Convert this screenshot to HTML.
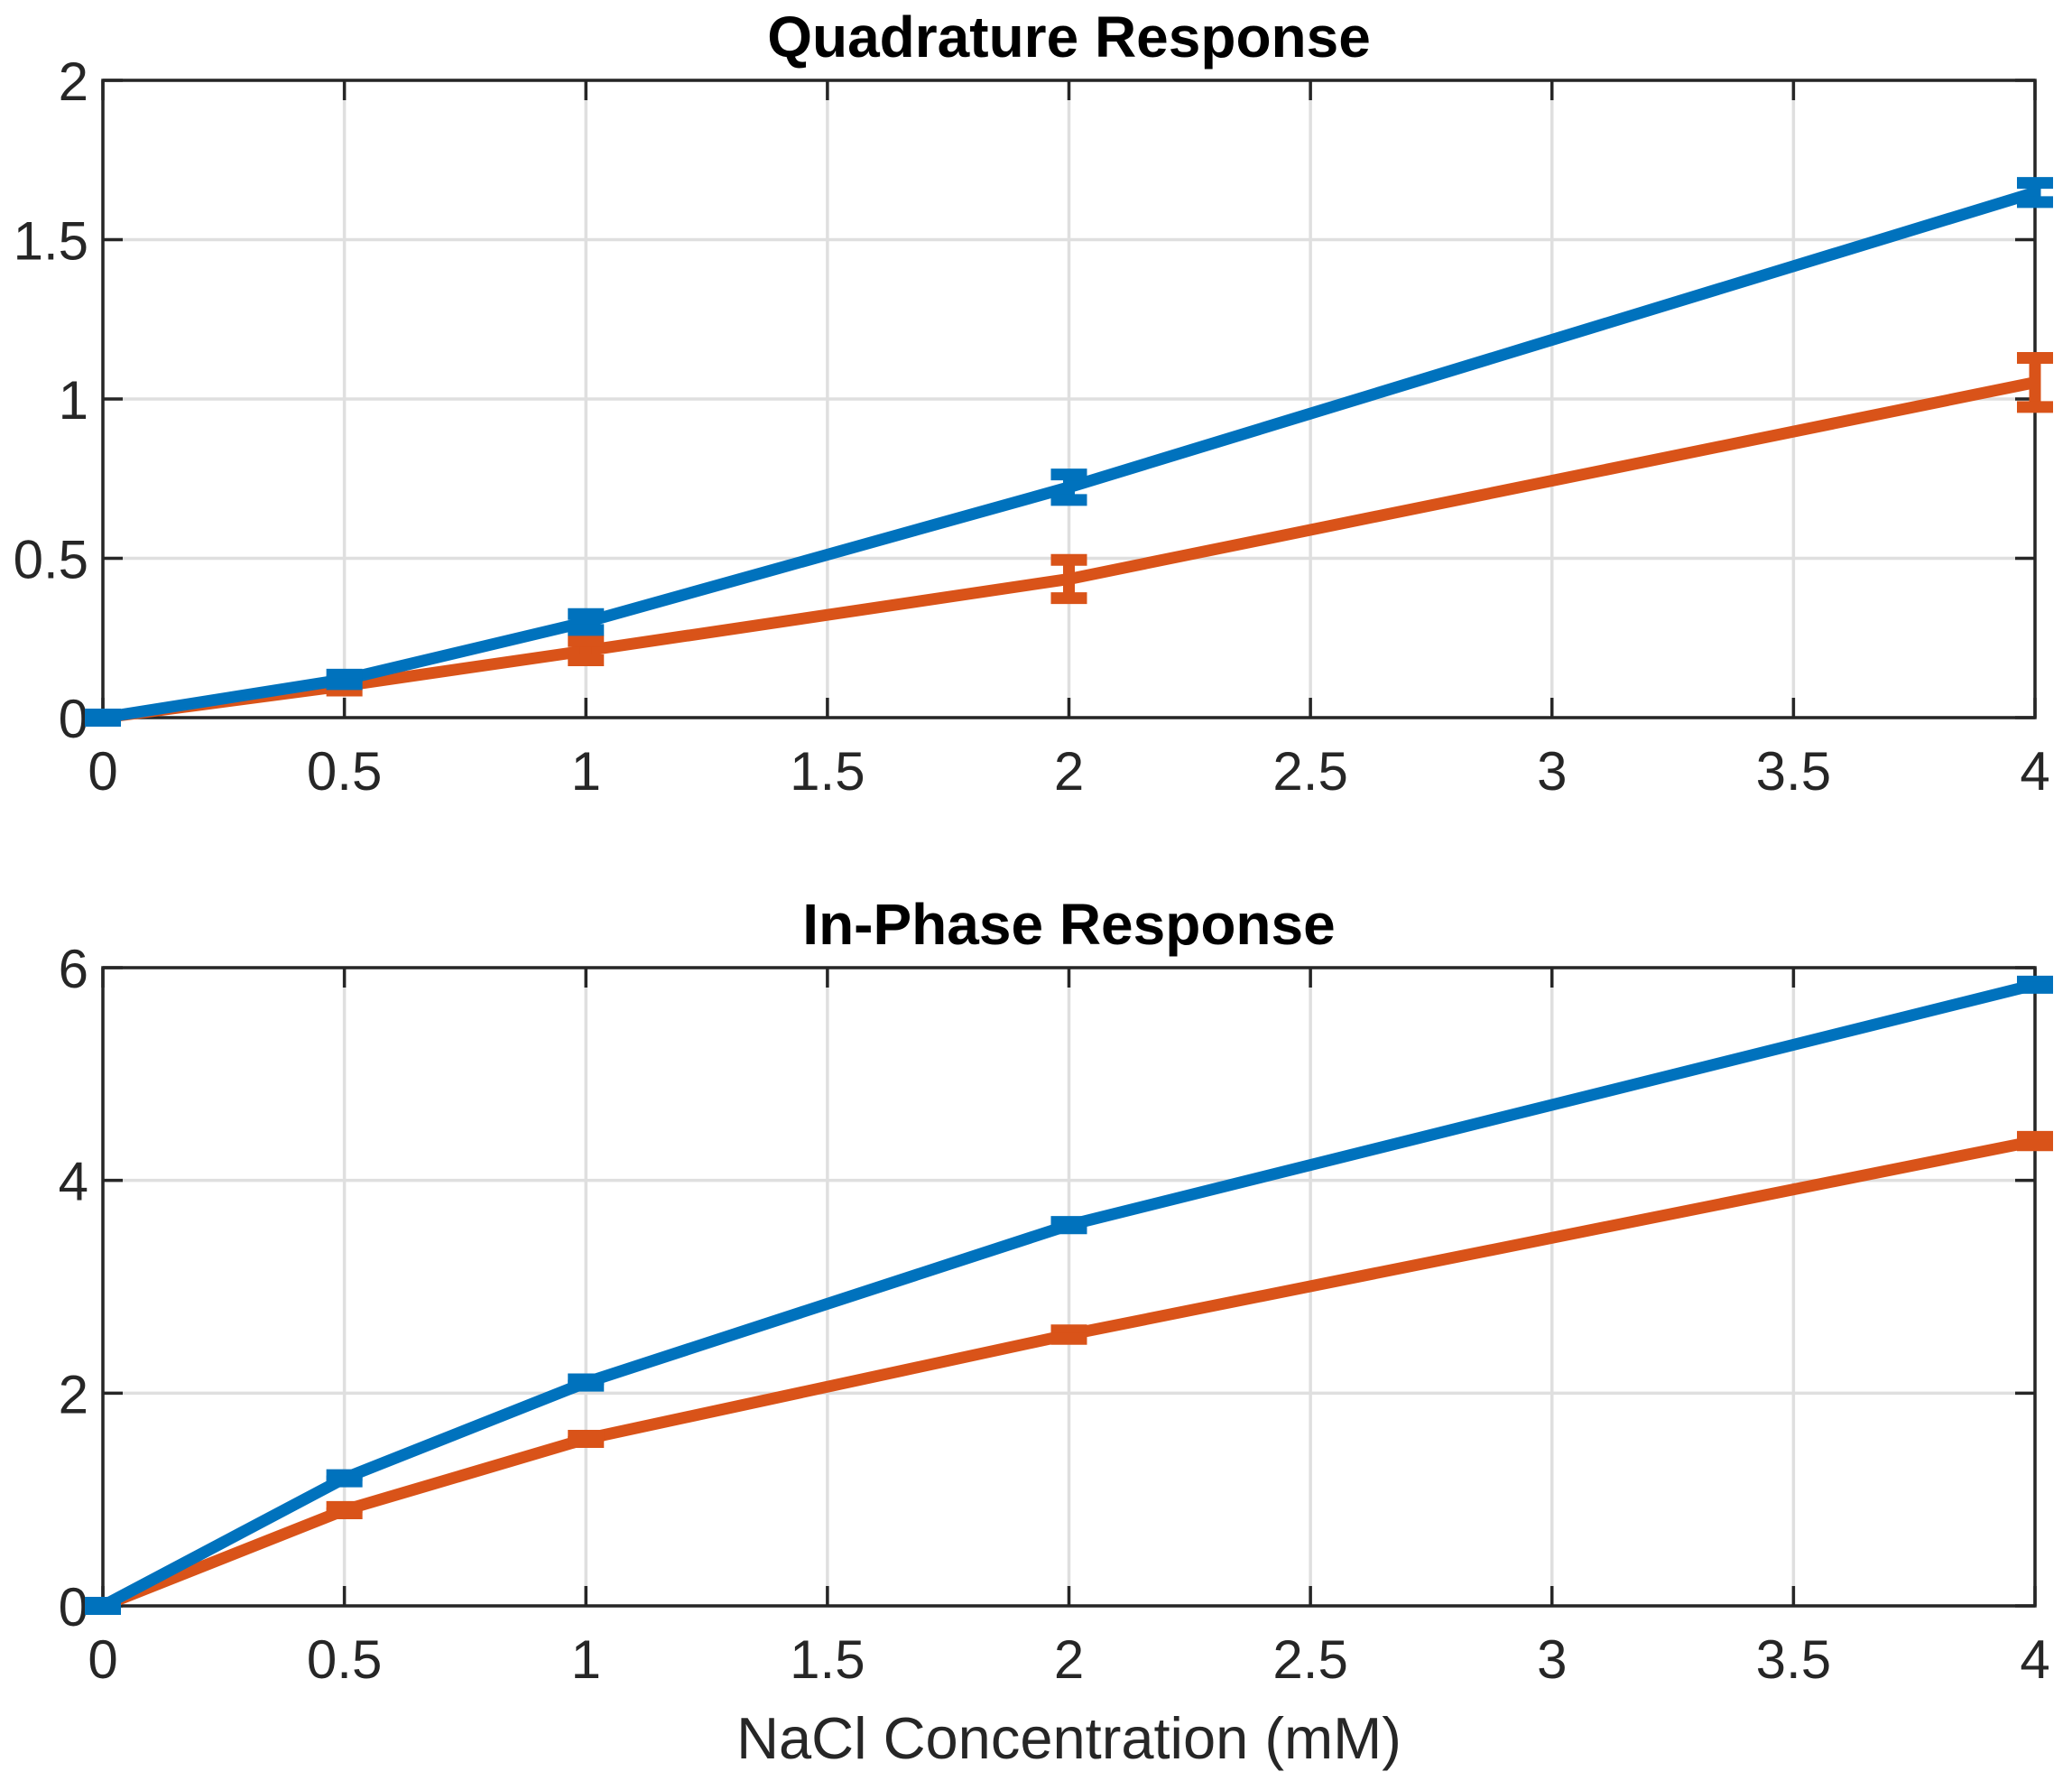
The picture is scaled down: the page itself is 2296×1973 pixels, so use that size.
<!DOCTYPE html>
<html><head><meta charset="utf-8"><style>
html,body{margin:0;padding:0;background:#fff;}
svg{display:block;}
text{font-family:"Liberation Sans",Arial,sans-serif;fill:#262626;}
</style></head><body>
<svg id="chart" width="2296" height="1973" viewBox="0 0 2296 1973" xmlns="http://www.w3.org/2000/svg"></svg>
<script>
const xCats = [0, 0.5, 1, 2, 4];
const xTicks = [0, 0.5, 1, 1.5, 2, 2.5, 3, 3.5, 4];
const xTickLabels = ["0","0.5","1","1.5","2","2.5","3","3.5","4"];
const quadBlue = [0, 0.12, 0.30, 0.723, 1.648];
const quadBlueErr = [0.01, 0.015, 0.025, 0.04, 0.03];
const quadOrange = [0, 0.10, 0.21, 0.435, 1.052];
const quadOrangeErr = [0.005, 0.015, 0.03, 0.06, 0.077];
const quadTicks = [0, 0.5, 1, 1.5, 2];
const quadTickLabels = ["0","0.5","1","1.5","2"];
const phaseBlue = [0, 1.2, 2.1, 3.58, 5.84];
const phaseBlueErr = [0.03, 0.03, 0.03, 0.03, 0.03];
const phaseOrange = [0, 0.9, 1.57, 2.55, 4.37];
const phaseOrangeErr = [0.03, 0.03, 0.03, 0.04, 0.04];
const phaseTicks = [0, 2, 4, 6];
const phaseTickLabels = ["0","2","4","6"];

const NS = "http://www.w3.org/2000/svg";
const svg = document.getElementById('chart');
function mk(tag, attrs, parent){
  const e = document.createElementNS(NS, tag);
  for (const k in attrs) e.setAttribute(k, attrs[k]);
  (parent||svg).appendChild(e);
  return e;
}
const L = 114, R = 2255;
const xMin = 0, xMax = 4;
function xs(v){ return L + (v - xMin) / (xMax - xMin) * (R - L); }

function panel(cfg){
  const g = mk('g', {});
  
  
  const ys = v => cfg.bottom - (v - cfg.yMin) / (cfg.yMax - cfg.yMin) * (cfg.bottom - cfg.top);
  xTicks.forEach(t => {
    const l = mk('line', {x1: xs(t), x2: xs(t), y1: cfg.top, y2: cfg.bottom, stroke: '#dfdfdf', 'stroke-width': 3.5}, g);
    
    
  });
  cfg.yTicks.forEach(t => {
    const l = mk('line', {x1: L, x2: R, y1: ys(t), y2: ys(t), stroke: '#dfdfdf', 'stroke-width': 3.5}, g);
    
    
  });
  const box = mk('rect', {x: L, y: cfg.top, width: R - L, height: cfg.bottom - cfg.top, fill: 'none', stroke: '#262626', 'stroke-width': 3.5}, g);
  
  
  const tl = 22;
  xTicks.forEach((t, i) => {
    mk('line', {x1: xs(t), x2: xs(t), y1: cfg.bottom, y2: cfg.bottom - tl, stroke: '#262626', 'stroke-width': 3.5}, g);
    mk('line', {x1: xs(t), x2: xs(t), y1: cfg.top, y2: cfg.top + tl, stroke: '#262626', 'stroke-width': 3.5}, g);
    const tx = mk('text', {x: xs(t), y: cfg.bottom + 80, 'font-size': 60, 'text-anchor': 'middle'}, g);
    tx.textContent = xTickLabels[i];
    
    
  });
  cfg.yTicks.forEach((t, i) => {
    mk('line', {x1: L, x2: L + tl, y1: ys(t), y2: ys(t), stroke: '#262626', 'stroke-width': 3.5}, g);
    mk('line', {x1: R, x2: R - tl, y1: ys(t), y2: ys(t), stroke: '#262626', 'stroke-width': 3.5}, g);
    const tx = mk('text', {x: L - 16, y: ys(t) + 22, 'font-size': 60, 'text-anchor': 'end'}, g);
    tx.textContent = cfg.yTickLabels[i];
    
    
  });
  const title = mk('text', {x: (L + R) / 2, y: cfg.top - 26, 'font-size': 64, 'font-weight': 'bold', 'text-anchor': 'middle', style: 'fill:#000'}, g);
  title.textContent = cfg.title;
  
  
  cfg.series.forEach(s => {
    const sg = mk('g', {}, g);
    
    
    const pts = xCats.map((x, i) => xs(x) + ',' + ys(s.vals[i])).join(' ');
    const pl = mk('polyline', {points: pts, fill: 'none', stroke: s.color, 'stroke-width': 13, 'stroke-linejoin': 'round'}, sg);
    
    
    xCats.forEach((x, i) => {
      const cx = xs(x), yt = ys(s.vals[i] + s.errs[i]), yb = ys(s.vals[i] - s.errs[i]);
      const eg = mk('g', {}, sg);
      
      
      mk('line', {x1: cx, x2: cx, y1: yt, y2: yb, stroke: s.color, 'stroke-width': 13}, eg);
      mk('line', {x1: cx - 20, x2: cx + 20, y1: yt, y2: yt, stroke: s.color, 'stroke-width': 13}, eg);
      mk('line', {x1: cx - 20, x2: cx + 20, y1: yb, y2: yb, stroke: s.color, 'stroke-width': 13}, eg);
    });
  });
}

panel({name: 'quadrature-panel', title: 'Quadrature Response', top: 89, bottom: 795, yMin: 0, yMax: 2,
  yTicks: quadTicks, yTickLabels: quadTickLabels,
  series: [
    {name: 'quadrature-orange-series', color: '#d95319', vals: quadOrange, errs: quadOrangeErr},
    {name: 'quadrature-blue-series', color: '#0072bd', vals: quadBlue, errs: quadBlueErr}
  ]});
panel({name: 'in-phase-panel', title: 'In-Phase Response', top: 1072, bottom: 1779, yMin: 0, yMax: 6,
  yTicks: phaseTicks, yTickLabels: phaseTickLabels,
  series: [
    {name: 'in-phase-orange-series', color: '#d95319', vals: phaseOrange, errs: phaseOrangeErr},
    {name: 'in-phase-blue-series', color: '#0072bd', vals: phaseBlue, errs: phaseBlueErr}
  ]});

const xl = mk('text', {x: (L + R) / 2, y: 1948, 'font-size': 65, 'text-anchor': 'middle'});
xl.textContent = 'NaCl Concentration (mM)';


</script>
</body></html>
